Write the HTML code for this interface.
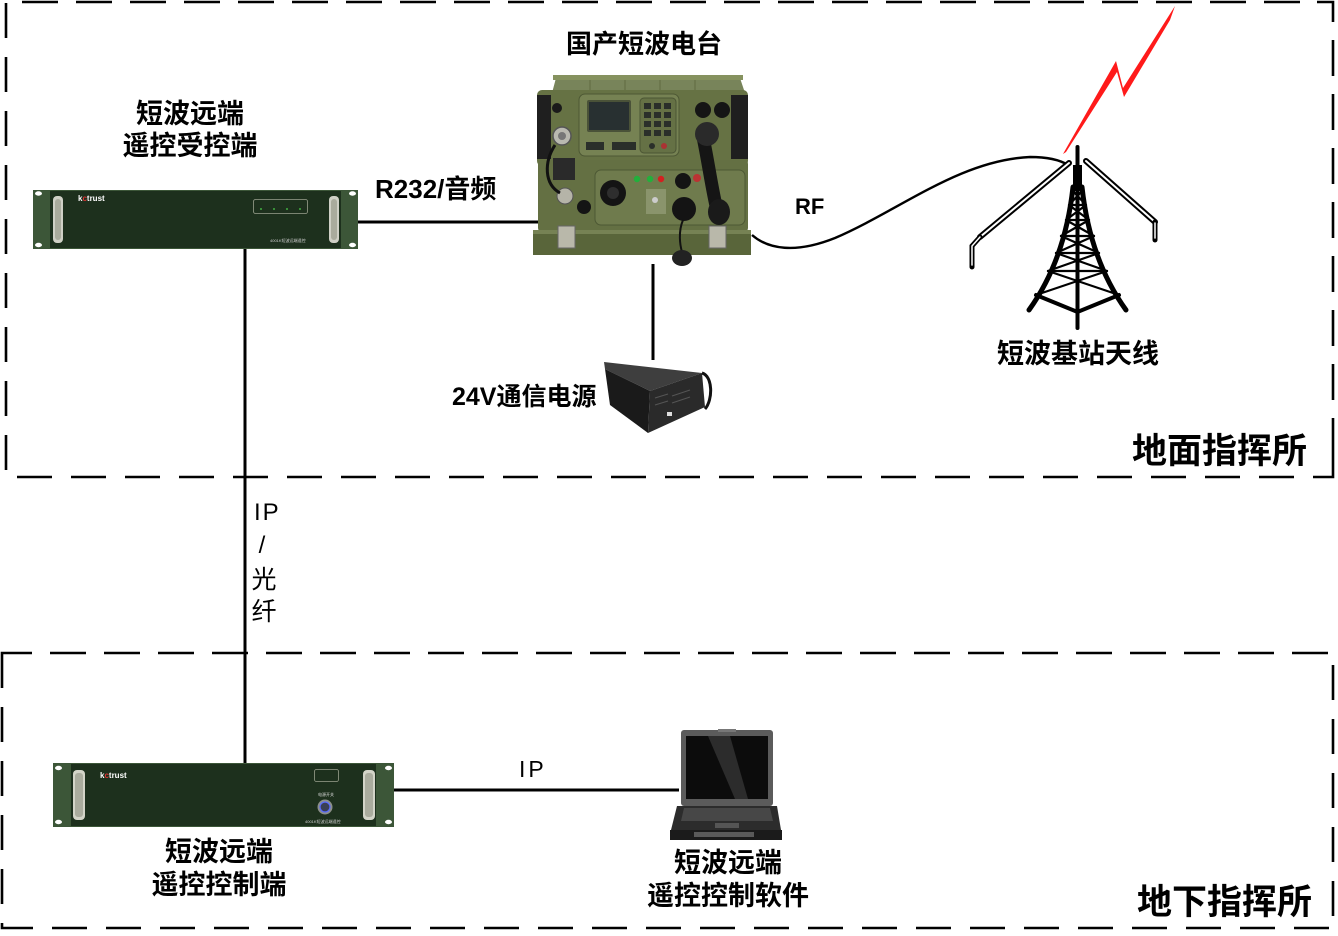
<!DOCTYPE html>
<html><head><meta charset="utf-8"><style>
html,body{margin:0;padding:0;background:#fff;}
svg{display:block;}
text{font-family:"Liberation Sans","Noto Sans CJK SC",sans-serif;fill:#000;}
.b{font-weight:bold;}
</style></head><body>
<svg width="1338" height="936" viewBox="0 0 1338 936" xmlns="http://www.w3.org/2000/svg">
<rect width="1338" height="936" fill="#fff"/>
<!-- ===== Dashed borders ===== -->
<g stroke="#000" stroke-width="2.6" fill="none">
  <line x1="22" y1="2" x2="1312" y2="2" stroke-dasharray="36 18"/>
  <path d="M1317,2 H1333 V22"/>
  <line x1="1333" y1="40" x2="1333" y2="400" stroke-dasharray="36 18"/>
  <path d="M1333,418 V477 H1313"/>
  <line x1="6" y1="3" x2="6" y2="470" stroke-dasharray="35 19"/>
  <line x1="17" y1="477" x2="1296" y2="477" stroke-dasharray="35 19"/>
  <path d="M2,688 V653 H32"/>
  <line x1="50" y1="653" x2="1328" y2="653" stroke-dasharray="36 18"/>
  <line x1="1333" y1="665" x2="1333" y2="916" stroke-dasharray="35 19"/>
  <line x1="2" y1="707" x2="2" y2="905" stroke-dasharray="35 19"/>
  <path d="M2,923 V928 H33"/>
  <line x1="52" y1="928" x2="1330" y2="928" stroke-dasharray="35 19"/>
</g>

<!-- ===== Connector lines ===== -->
<g stroke="#000" stroke-width="3" fill="none">
  <line x1="358" y1="222" x2="542" y2="222"/>
  <line x1="245" y1="249" x2="245" y2="763"/>
  <line x1="394" y1="790" x2="679" y2="790"/>
  <line x1="653" y1="264" x2="653" y2="360"/>
  <path d="M752,235 C768,249 795,254 835,238 C900,210 960,160 1030,157 C1048,157 1060,160 1068,165" stroke-width="2.4"/>
</g>

<!-- ===== Rack unit 1 ===== -->
<g>
  <rect x="33" y="190" width="325" height="59" fill="#3c5638"/>
  <rect x="50" y="191" width="291" height="57" fill="#1d301d"/>
  <ellipse cx="38.5" cy="193.5" rx="3.5" ry="2.2" fill="#fff"/>
  <ellipse cx="38.5" cy="245" rx="3.5" ry="2.2" fill="#fff"/>
  <ellipse cx="352.5" cy="193.5" rx="3.5" ry="2.2" fill="#fff"/>
  <ellipse cx="352.5" cy="245" rx="3.5" ry="2.2" fill="#fff"/>
  <rect x="53" y="196" width="10" height="47" rx="4" fill="#cfd0c6"/>
  <rect x="55" y="199" width="6" height="41" rx="3" fill="#a9ab9d"/>
  <rect x="329" y="196" width="10" height="47" rx="4" fill="#cfd0c6"/>
  <rect x="331" y="199" width="6" height="41" rx="3" fill="#a9ab9d"/>
  <text x="78" y="201" font-size="8" class="b" style="fill:#fff">k<tspan style="fill:#d33">c</tspan>trust</text>
  <rect x="253.5" y="199.5" width="54" height="14" rx="2" fill="none" stroke="#9aa08e" stroke-width="0.8"/>
  <g fill="#4cd24c"><circle cx="261" cy="209" r="0.9"/><circle cx="274" cy="209" r="0.9"/><circle cx="287" cy="209" r="0.9"/><circle cx="300" cy="209" r="0.9"/></g>
  <text x="270" y="242" font-size="4" style="fill:#cfcfcf">4001K短波远端遥控</text>
</g>

<!-- ===== Rack unit 2 ===== -->
<g>
  <rect x="53" y="763" width="341" height="64" fill="#3c5638"/>
  <rect x="71" y="764" width="305" height="62" fill="#1d301d"/>
  <ellipse cx="58.5" cy="768" rx="3.5" ry="2.2" fill="#fff"/>
  <ellipse cx="58.5" cy="822" rx="3.5" ry="2.2" fill="#fff"/>
  <ellipse cx="388.5" cy="768" rx="3.5" ry="2.2" fill="#fff"/>
  <ellipse cx="388.5" cy="822" rx="3.5" ry="2.2" fill="#fff"/>
  <rect x="73" y="770" width="12" height="50" rx="4" fill="#d3d4c8"/>
  <rect x="75" y="773" width="8" height="44" rx="3" fill="#aaac9e"/>
  <rect x="363" y="770" width="12" height="50" rx="4" fill="#d3d4c8"/>
  <rect x="365" y="773" width="8" height="44" rx="3" fill="#aaac9e"/>
  <text x="100" y="778" font-size="8" class="b" style="fill:#fff">k<tspan style="fill:#d33">c</tspan>trust</text>
  <rect x="314.5" y="769.5" width="24" height="12" rx="2" fill="none" stroke="#9aa08e" stroke-width="0.8"/>
  <text x="318" y="796" font-size="4" style="fill:#ddd">电源开关</text>
  <circle cx="325" cy="807" r="7.5" fill="#8c8f8a"/>
  <circle cx="325" cy="807" r="5" fill="#3a3f55" stroke="#5a6cff" stroke-width="1.2"/>
  <text x="305" y="823" font-size="4" style="fill:#cfcfcf">4001K短波远端遥控</text>
</g>

<!-- ===== Radio ===== -->
<g>
  <path d="M556,78 L740,78 L745,93 L552,93 Z" fill="#78845a"/>
  <rect x="553" y="75" width="190" height="5" fill="#86925f"/>
  <g stroke="#5f6a40" stroke-width="1"><line x1="590" y1="80" x2="590" y2="92"/><line x1="625" y1="80" x2="625" y2="92"/><line x1="660" y1="80" x2="660" y2="92"/><line x1="695" y1="80" x2="695" y2="92"/></g>
  <rect x="537" y="90" width="211" height="76" rx="5" fill="#667244"/>
  <path d="M537,95 h14 v64 h-14 z" fill="#1f1f1f"/>
  <path d="M731,95 h17 v64 h-17 z" fill="#1f1f1f"/>
  <rect x="579" y="94" width="100" height="62" rx="6" fill="#768253" stroke="#4d5834"/>
  <rect x="587" y="100" width="44" height="32" rx="2" fill="#4a5238"/>
  <rect x="589" y="102" width="40" height="28" fill="#283031"/>
  <rect x="640" y="98" width="36" height="55" rx="4" fill="#657145" stroke="#4b5534"/>
  <g fill="#2a2f2a">
    <rect x="644" y="103" width="7" height="6"/><rect x="654" y="103" width="7" height="6"/><rect x="664" y="103" width="7" height="6"/>
    <rect x="644" y="112" width="7" height="6"/><rect x="654" y="112" width="7" height="6"/><rect x="664" y="112" width="7" height="6"/>
    <rect x="644" y="121" width="7" height="6"/><rect x="654" y="121" width="7" height="6"/><rect x="664" y="121" width="7" height="6"/>
    <rect x="644" y="130" width="7" height="6"/><rect x="654" y="130" width="7" height="6"/><rect x="664" y="130" width="7" height="6"/>
    <rect x="586" y="142" width="18" height="8"/><rect x="612" y="142" width="24" height="8"/>
    <circle cx="652" cy="146" r="3"/>
  </g>
  <circle cx="664" cy="146" r="3" fill="#a33"/>
  <circle cx="703" cy="110" r="8" fill="#151515"/>
  <circle cx="722" cy="110" r="8" fill="#151515"/>
  <circle cx="562" cy="136" r="9" fill="#b9b9b0" stroke="#555" stroke-width="1.5"/>
  <circle cx="562" cy="136" r="4" fill="#777"/>
  <circle cx="557" cy="108" r="5" fill="#1a1a1a"/>
  <rect x="538" y="160" width="210" height="72" rx="4" fill="#647043"/>
  <rect x="595" y="170" width="150" height="55" rx="6" fill="#6f7b4d" stroke="#4d5834"/>
  <rect x="553" y="158" width="22" height="22" fill="#2a2a2a"/>
  <circle cx="637" cy="179" r="3.2" fill="#22b03c"/>
  <circle cx="650" cy="179" r="3.2" fill="#22b03c"/>
  <circle cx="661" cy="179" r="3.2" fill="#d42020"/>
  <rect x="646" y="189" width="20" height="25" fill="#8a946c"/>
  <circle cx="655" cy="200" r="3" fill="#ccc"/>
  <circle cx="613" cy="193" r="13" fill="#141414"/>
  <circle cx="613" cy="193" r="6" fill="#2e2e2e"/>
  <circle cx="584" cy="207" r="7" fill="#141414"/>
  <circle cx="565" cy="196" r="8" fill="#b5b4a8" stroke="#555"/>
  <circle cx="684" cy="209" r="12" fill="#141414"/>
  <circle cx="683" cy="181" r="8" fill="#141414"/>
  <path d="M702,132 C708,160 712,190 717,210" stroke="#151515" stroke-width="13" stroke-linecap="round" fill="none"/>
  <ellipse cx="719" cy="212" rx="11" ry="13" fill="#1a1a1a"/>
  <ellipse cx="707" cy="134" rx="12" ry="12" fill="#2a2a2a"/>
  <circle cx="697" cy="178" r="4" fill="#b33"/>
  <path d="M555,145 C544,162 544,184 560,193" stroke="#111" stroke-width="3" fill="none"/>
  <rect x="533" y="230" width="218" height="25" fill="#59653a"/>
  <rect x="533" y="230" width="218" height="4" fill="#768254"/>
  <rect x="558" y="226" width="17" height="22" fill="#b9b8aa" stroke="#666" stroke-width="1"/>
  <rect x="709" y="226" width="17" height="22" fill="#b9b8aa" stroke="#666" stroke-width="1"/>
  <path d="M683,220 C678,232 680,245 682,252" stroke="#111" stroke-width="2" fill="none"/>
  <ellipse cx="682" cy="258" rx="10" ry="8" fill="#222"/>
</g>

<!-- ===== Power supply ===== -->
<g>
  <polygon points="604,362 702,373 650,391 605,369" fill="#3e3e3e"/>
  <polygon points="605,369 650,391 648,433 610,405" fill="#1a1a1a"/>
  <polygon points="650,391 702,373 705,407 648,433" fill="#2a2a2a"/>
  <g stroke="#555" stroke-width="1"><line x1="655" y1="398" x2="668" y2="394"/><line x1="655" y1="405" x2="668" y2="401"/><line x1="672" y1="396" x2="690" y2="390"/><line x1="672" y1="403" x2="690" y2="397"/></g>
  <rect x="667" y="412" width="5" height="4" fill="#ddd"/>
  <path d="M702,373 C713,376 713,400 705,409" stroke="#111" stroke-width="3" fill="none"/>
</g>

<!-- ===== Laptop ===== -->
<g>
  <rect x="681" y="730" width="92" height="76" rx="3" fill="#5b5b5b"/>
  <rect x="686" y="736" width="82" height="63" fill="#0c0c0c"/>
  <polygon points="708,736 730,736 748,799 735,799" fill="#2c2c2c"/>
  <rect x="718" y="729" width="18" height="3" fill="#777"/>
  <polygon points="677,806 777,806 781,830 671,830" fill="#2c2c2c"/>
  <polygon points="684,808 770,808 773,821 681,821" fill="#474747"/>
  <rect x="715" y="823" width="24" height="5" fill="#555"/>
  <rect x="670" y="830" width="112" height="10" fill="#1b1b1b"/>
  <rect x="694" y="832" width="60" height="5" fill="#5a5a5a"/>
</g>

<!-- ===== Tower ===== -->
<g stroke="#000" fill="none" stroke-linecap="round">
  <line x1="1077.5" y1="147" x2="1077.5" y2="328" stroke-width="4"/>
  <rect x="1073" y="165" width="9" height="25" fill="#000" stroke="none"/>
  <path d="M1073,187 Q1065,260 1029,310" stroke-width="5"/>
  <path d="M1082,187 Q1090,260 1126,310" stroke-width="5"/>
  <polyline points="1036,295 1077.5,312 1119,295" stroke-width="4"/>
  <g stroke-width="2.2">
    <line x1="1072" y1="190" x2="1083" y2="190"/>
    <line x1="1069" y1="205" x2="1086" y2="205"/>
    <line x1="1066" y1="220" x2="1089" y2="220"/>
    <line x1="1061" y1="236" x2="1094" y2="236"/>
    <line x1="1056" y1="253" x2="1099" y2="253"/>
    <line x1="1048" y1="271" x2="1107" y2="271"/>
    <line x1="1072" y1="190" x2="1086" y2="205"/><line x1="1083" y1="190" x2="1069" y2="205"/>
    <line x1="1069" y1="205" x2="1089" y2="220"/><line x1="1086" y1="205" x2="1066" y2="220"/>
    <line x1="1066" y1="220" x2="1094" y2="236"/><line x1="1089" y1="220" x2="1061" y2="236"/>
    <line x1="1061" y1="236" x2="1099" y2="253"/><line x1="1094" y1="236" x2="1056" y2="253"/>
    <line x1="1056" y1="253" x2="1107" y2="271"/><line x1="1099" y1="253" x2="1048" y2="271"/>
    <line x1="1048" y1="271" x2="1119" y2="295"/><line x1="1107" y1="271" x2="1036" y2="295"/>
  </g>
  <line x1="1069" y1="163" x2="980" y2="237" stroke-width="6"/>
  <line x1="1069" y1="163" x2="980" y2="237" stroke="#fff" stroke-width="2"/>
  <line x1="1086" y1="161" x2="1155" y2="222" stroke-width="6"/>
  <line x1="1086" y1="161" x2="1155" y2="222" stroke="#fff" stroke-width="2"/>
  <path d="M980,237 L972,246 V267" stroke-width="5"/>
  <path d="M980,237 L972,246 V265" stroke="#fff" stroke-width="1.5"/>
  <path d="M1155,222 V240" stroke-width="5"/>
  <path d="M1155,223 V238" stroke="#fff" stroke-width="1.5"/>
</g>
<polygon points="1063,154 1116,61 1123,88 1175,6 1170,20 1124,97 1117,72 1066,152" fill="#ff1a1a"/>

<!-- ===== Labels ===== -->
<text x="190" y="123" font-size="27" text-anchor="middle" class="b">短波远端</text>
<text x="190" y="155" font-size="27" text-anchor="middle" class="b">遥控受控端</text>
<text x="644" y="53" font-size="26" text-anchor="middle" class="b">国产短波电台</text>
<text x="375" y="198" font-size="26" class="b">R232/音频</text>
<text x="795" y="214" font-size="22" class="b">RF</text>
<text x="452" y="405" font-size="25" class="b">24V通信电源</text>
<text x="1078" y="363" font-size="27" text-anchor="middle" class="b">短波基站天线</text>
<text x="1132" y="463" font-size="35" class="b">地面指挥所</text>
<text x="219" y="861" font-size="27" text-anchor="middle" class="b">短波远端</text>
<text x="219" y="894" font-size="27" text-anchor="middle" class="b">遥控控制端</text>
<text x="728" y="872" font-size="27" text-anchor="middle" class="b">短波远端</text>
<text x="728" y="905" font-size="27" text-anchor="middle" class="b">遥控控制软件</text>
<text x="1137" y="914" font-size="35" class="b">地下指挥所</text>
<text x="254" y="520" font-size="24" letter-spacing="2">IP</text>
<text x="262" y="553" font-size="24" text-anchor="middle">/</text>
<text x="264" y="588" font-size="25" text-anchor="middle">光</text>
<text x="264" y="620" font-size="25" text-anchor="middle">纤</text>
<text x="519" y="777" font-size="23" letter-spacing="3">IP</text>
</svg>
</body></html>
